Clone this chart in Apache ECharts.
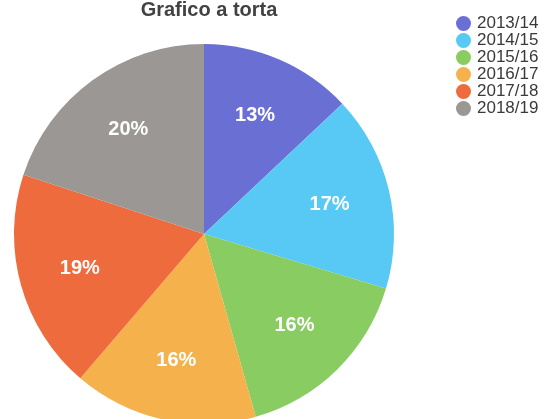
<!DOCTYPE html>
<html><head><meta charset="utf-8">
<script src="https://cdn.jsdelivr.net/npm/echarts@6/dist/echarts.min.js"></script>
<style>html,body{margin:0;padding:0;background:#fff}#c{width:545px;height:419px}</style>
</head><body><div id="c"></div>
<script>
const categories = ['2013/14','2014/15','2015/16','2016/17','2017/18','2018/19'];
const values = [13.0, 16.7, 16.0, 15.7, 18.8, 20.0];
const colors = ['#6a6fd3','#58c9f5','#88cc62','#f5b24c','#ee6b3d','#9a9794'];
const titleText = 'Grafico a torta';

const chart = echarts.init(document.getElementById('c'));
const data = categories.map((n,i)=>({name:n, value:values[i], itemStyle:{color:colors[i]}}));
chart.setOption({
  animation:false,
  title:{text:titleText, left:204, top:-5, textAlign:'center',
    textStyle:{fontFamily:'Liberation Sans', fontSize:20, fontWeight:'bold', color:'#424242'}},
  legend:{orient:'vertical', left:451, top:10, itemWidth:15, itemHeight:15, itemGap:0,
    icon:'circle', data:categories,
    textStyle:{fontFamily:'Liberation Sans', fontSize:17, lineHeight:16.8, color:'#3a3a3a', padding:[0,0,0,1]}},
  series:[
    {type:'pie', center:[204,234], radius:[0,190], startAngle:90, data:data,
     label:{show:false}, labelLine:{show:false}, silent:true},
    {type:'pie', center:[204,234], radius:[62,190], startAngle:90,
     data:categories.map((n,i)=>({name:n, value:values[i]})),
     itemStyle:{color:'rgba(0,0,0,0)'}, silent:true, legendHoverLink:false,
     label:{show:true, position:'inside', color:'#fff', fontFamily:'Liberation Sans', fontSize:20, fontWeight:'bold',
       formatter:p=>Math.round(p.percent)+'%'},
     labelLine:{show:false}}
  ]
});
</script></body></html>
